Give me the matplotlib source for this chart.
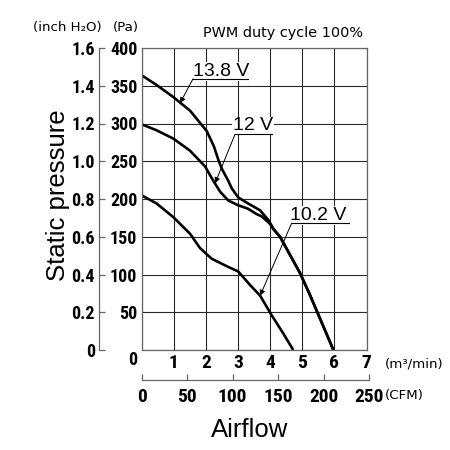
import numpy as np
import matplotlib
matplotlib.use("Agg")
import matplotlib.pyplot as plt
from matplotlib import font_manager

# ----------------------------------------------------------------------
# data (airflow m3/min, static pressure Pa)
# ----------------------------------------------------------------------
q_138 = [0, 0.47, 0.99, 1.51, 2.03, 2.25, 2.39, 2.5, 2.6, 2.7, 2.81, 3.01, 3.32, 3.69,
         3.95, 4.1, 4.31, 4.62, 4.93, 5.24, 5.55, 5.81, 5.97]
p_138 = [364, 351, 335, 317, 290, 270, 252, 240, 232, 224, 214, 202, 194, 185,
         172, 161, 150, 126, 102, 73, 42, 16, 0]

q_12 = [0, 0.47, 0.99, 1.51, 1.98, 2.18, 2.44, 2.7, 2.99, 3.32, 3.58, 3.74, 4.0, 4.1,
        4.31, 4.62, 4.93, 5.24, 5.55, 5.81, 5.97]
p_12 = [299, 291, 280, 264, 243, 228, 210, 198, 192, 187, 180, 177, 167, 160,
        150, 126, 102, 73, 42, 16, 0]

q_102 = [0, 0.47, 0.99, 1.51, 1.82, 2.18, 2.65, 3.01, 3.38, 3.69, 4.05, 4.41, 4.72]
p_102 = [205, 194, 176, 154, 135, 121, 111, 104, 86, 72, 46, 22, 0]

labels = ["13.8 V", "12 V", "10.2 V"]
label_xy = [(1.6, 363), (2.85, 291), (4.62, 172)]        # text left / baseline
underline = [(1.6, 3.31, 359), (2.91, 4.05, 285.7), (4.67, 6.44, 167.8)]
arrow_tip = [(1.2, 327), (2.29, 221), (3.69, 72)]

pa_ticks = [0, 50, 100, 150, 200, 250, 300, 350, 400]
inch_ticks = [0, 0.2, 0.4, 0.6, 0.8, 1.0, 1.2, 1.4, 1.6]
m3_ticks = [1, 2, 3, 4, 5, 6, 7]
cfm_ticks = [0, 50, 100, 150, 200, 250]
M3_PER_CFM = 0.0283168

# ----------------------------------------------------------------------
# fonts
# ----------------------------------------------------------------------
names = {f.name for f in font_manager.fontManager.ttflist}
narrow = "DejaVu Sans"
for cand in ["Liberation Sans Narrow", "DejaVu Sans Condensed", "Roboto Condensed"]:
    if cand in names:
        narrow = cand
        break
plain = ["Liberation Sans", "DejaVu Sans"]
small = ["DejaVu Sans"]
tick_font = dict(family=narrow, weight="bold")

# ----------------------------------------------------------------------
# figure
# ----------------------------------------------------------------------
W = H = 450
fig = plt.figure(figsize=(4.5, 4.5), dpi=100)
fig.patch.set_facecolor("white")

left, right, top, bottom = 141.5, 366.5, 48, 350
ax = fig.add_axes([left / W, 1 - bottom / H, (right - left) / W, (bottom - top) / H])
ax.set_xlim(0, 7)
ax.set_ylim(0, 400)
ax.set_xticks(range(0, 8))
ax.set_yticks(pa_ticks)
ax.grid(True, color="#2a2a2a", linewidth=0.8)
ax.set_axisbelow(True)
for s in ax.spines.values():
    s.set_color("#666666")
    s.set_linewidth(0.9)
ax.tick_params(length=0)
ax.set_xticklabels([""] + [str(t) for t in m3_ticks], fontsize=14, **tick_font)
ax.set_yticklabels([""] + [str(t) for t in pa_ticks[1:]], fontsize=13, **tick_font)
ax.tick_params(axis="x", pad=3)
ax.tick_params(axis="y", pad=3)
ax.text(-0.26, -13, "0", ha="center", va="center", fontsize=13, clip_on=False, **tick_font)

for q, p in [(q_138, p_138), (q_12, p_12), (q_102, p_102)]:
    ax.plot(q, p, color="black", linewidth=1.9, solid_joinstyle="round",
            solid_capstyle="butt", zorder=2)

for lab, (tx, ty), (u0, u1, uy), (ax_, ay_) in zip(labels, label_xy, underline, arrow_tip):
    ax.text(tx, ty, lab, fontsize=14, family=plain, ha="left", va="baseline",
            bbox=dict(facecolor="white", edgecolor="none", pad=0.5), zorder=3)
    ax.plot([u0, u1], [uy, uy], color="black", linewidth=0.8, zorder=4)
    ax.annotate("", xy=(ax_, ay_), xytext=(u0, uy),
                arrowprops=dict(arrowstyle="-|>", color="black", lw=0.7,
                                mutation_scale=8, shrinkA=0, shrinkB=0),
                zorder=4)

# inch H2O axis (left)
inch_x = 99
axi = fig.add_axes([inch_x / W, 1 - bottom / H, 0.001, (bottom - top) / H])
axi.set_ylim(0, 1.6)
axi.set_xticks([])
for k in ["top", "right", "bottom"]:
    axi.spines[k].set_visible(False)
axi.spines["left"].set_color("#666666")
axi.spines["left"].set_linewidth(0.9)
axi.patch.set_alpha(0)
axi.set_yticks(inch_ticks)
axi.set_yticklabels(["0" if t == 0 else f"{t:.1f}" for t in inch_ticks], fontsize=13, **tick_font)
axi.tick_params(axis="y", direction="in", length=4.5, width=0.9, color="#666666", pad=3)

# CFM axis (bottom)
cfm_y = 380
cfm_w = (right - left) * (cfm_ticks[-1] * M3_PER_CFM / 7)
axc = fig.add_axes([left / W, 1 - cfm_y / H, cfm_w / W, 0.001])
axc.set_xlim(0, cfm_ticks[-1])
axc.set_yticks([])
for k in ["top", "right", "left"]:
    axc.spines[k].set_visible(False)
axc.spines["bottom"].set_color("#666666")
axc.spines["bottom"].set_linewidth(0.9)
axc.patch.set_alpha(0)
axc.set_xticks(cfm_ticks)
axc.set_xticklabels([str(t) for t in cfm_ticks], fontsize=14, **tick_font)
axc.tick_params(axis="x", direction="in", length=4, width=0.9, color="#666666", pad=6)

# texts
fig.text(58 / W, 1 - 195 / H, "Static pressure", rotation=90, ha="center", va="center",
         fontsize=18.5, family=plain)
fig.text(250 / W, 1 - 430 / H, "Airflow", ha="center", va="center", fontsize=18.5, family=plain)
fig.text(363 / W, 1 - 33 / H, "PWM duty cycle 100%", ha="right", va="center",
         fontsize=10.4, family=small)
fig.text(33 / W, 1 - 28 / H, "(inch H\u2082O)", ha="left", va="center", fontsize=9.6, family=small)
fig.text(113 / W, 1 - 28 / H, "(Pa)", ha="left", va="center", fontsize=9.6, family=small)
fig.text(385 / W, 1 - 364 / H, "(m\u00b3/min)", ha="left", va="center", fontsize=9.6, family=small)
fig.text(385 / W, 1 - 396 / H, "(CFM)", ha="left", va="center", fontsize=9.6, family=small)

fig.savefig("out.png", dpi=100, facecolor="white")
